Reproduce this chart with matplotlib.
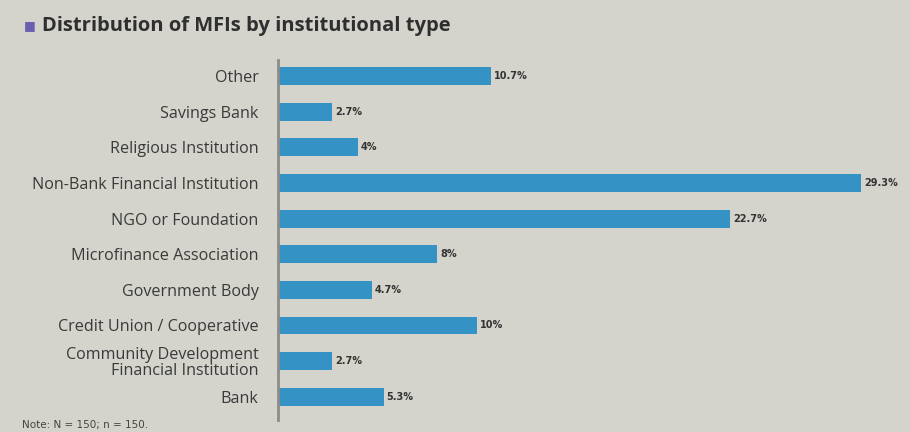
import matplotlib.pyplot as plt

categories = ["Bank", "Community Development\nFinancial Institution",
              "Credit Union / Cooperative", "Government Body",
              "Microfinance Association", "NGO or Foundation",
              "Non-Bank Financial Institution", "Religious Institution",
              "Savings Bank", "Other"]
shares = [5.3, 2.7, 10, 4.7, 8, 22.7, 29.3, 4, 2.7, 10.7]
value_labels = ["5.3%", "2.7%", "10%", "4.7%", "8%", "22.7%",
                "29.3%", "4%", "2.7%", "10.7%"]

bg = "#d4d3cc"
bar_color = "#3592c4"

fig = plt.figure(figsize=(9.1, 4.32), dpi=100, facecolor=bg)
ax = fig.add_axes([0.3055, 0.028, 0.675, 0.833], facecolor=bg)

ypos = list(range(len(categories)))
ax.barh(ypos, shares, height=0.5, color=bar_color)
for y, v, lab in zip(ypos, shares, value_labels):
    ax.text(v + 0.15, y, lab, va="center", ha="left", fontsize=7,
            fontweight="bold", color="#333333")

ax.set_xlim(0, 30.85)
ax.set_ylim(-0.65, 9.45)
ax.set_yticks(ypos)
ax.set_yticklabels(categories, fontsize=11.6, color="#3a3a3a",
                   family="Open Sans", linespacing=0.95)
ax.tick_params(axis="y", length=0, pad=14)
ax.set_xticks([])
for side in ["top", "right", "bottom"]:
    ax.spines[side].set_visible(False)
ax.spines["left"].set_color("#8c8c88")
ax.spines["left"].set_linewidth(2)

# title with small square bullet
fig.text(0.026, 0.94, "\u25a0", fontsize=9, color="#6a5fb0", va="center")
fig.text(0.046, 0.94, "Distribution of MFIs by institutional type",
         fontsize=14.5, fontweight="bold", color="#2f2f2f", va="center",
         family="Open Sans")
fig.text(0.024, 0.016, "Note: N = 150; n = 150.", fontsize=7.5,
         color="#444444", va="center")

fig.savefig("out.png", dpi=100, facecolor=bg)
